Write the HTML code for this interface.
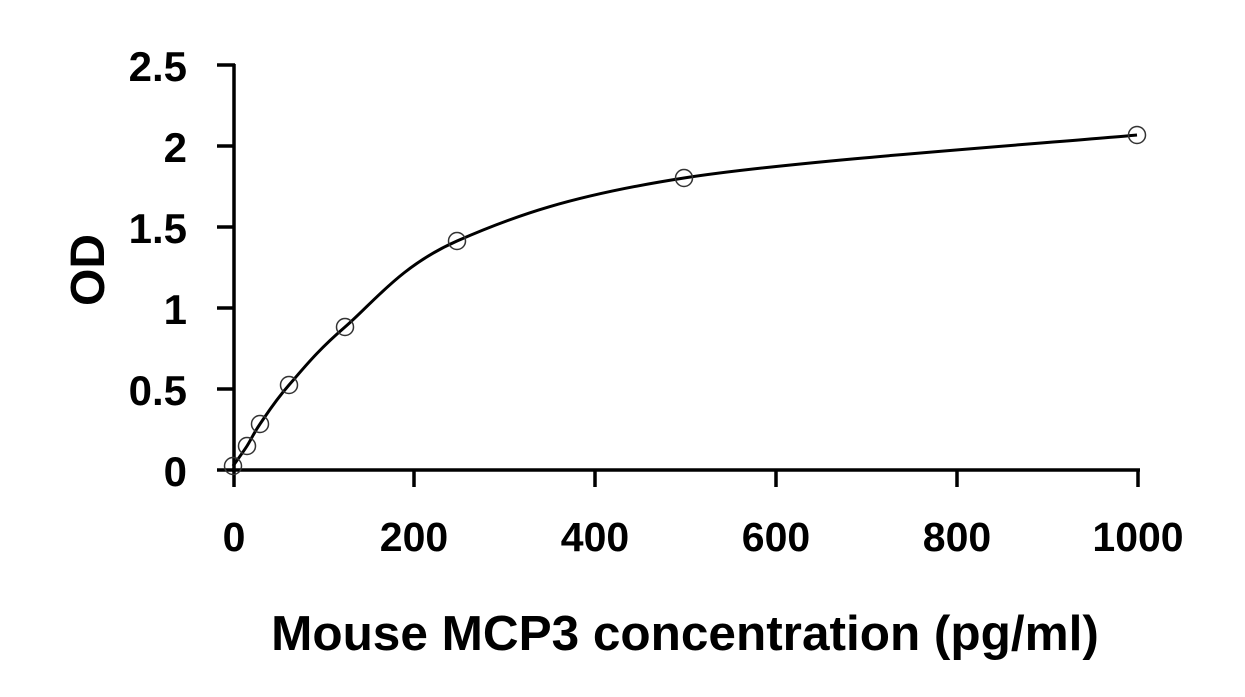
<!DOCTYPE html>
<html><head><meta charset="utf-8"><style>
html,body{margin:0;padding:0;background:#fff;}
svg{display:block;}
text{font-family:"Liberation Sans",Arial,sans-serif;font-weight:bold;fill:#000;}
</style></head><body>
<svg width="1245" height="697" viewBox="0 0 1245 697" xmlns="http://www.w3.org/2000/svg">
<g stroke="#000" stroke-width="3.5" fill="none">
<line x1="234" y1="64" x2="234" y2="471"/>
<line x1="232" y1="470" x2="1140" y2="470"/>
<line x1="217" y1="65" x2="235" y2="65"/>
<line x1="217" y1="146" x2="235" y2="146"/>
<line x1="217" y1="227" x2="235" y2="227"/>
<line x1="217" y1="308" x2="235" y2="308"/>
<line x1="217" y1="389" x2="235" y2="389"/>
<line x1="217" y1="470" x2="235" y2="470"/>
<line x1="234" y1="470" x2="234" y2="487"/>
<line x1="414" y1="470" x2="414" y2="487"/>
<line x1="595" y1="470" x2="595" y2="487"/>
<line x1="776" y1="470" x2="776" y2="487"/>
<line x1="957" y1="470" x2="957" y2="487"/>
<line x1="1138" y1="470" x2="1138" y2="487"/>
<path id="curve" stroke-width="3"/>
</g>
<g fill="none" stroke="#333" stroke-width="1.5" id="pts"></g>
<g font-size="42" text-anchor="end">
<text x="187" y="81">2.5</text>
<text x="187" y="162">2</text>
<text x="187" y="243">1.5</text>
<text x="187" y="324">1</text>
<text x="187" y="405">0.5</text>
<text x="187" y="486">0</text>
</g>
<g font-size="41" text-anchor="middle">
<text x="234" y="551">0</text>
<text x="414" y="551">200</text>
<text x="595" y="551">400</text>
<text x="776" y="551">600</text>
<text x="957" y="551">800</text>
<text x="1138" y="551">1000</text>
</g>
<text x="685" y="650" font-size="49.5" text-anchor="middle">Mouse MCP3 concentration (pg/ml)</text>
<text transform="translate(104,270) rotate(-90)" font-size="48" text-anchor="middle">OD</text>
</svg>
<script>
var P=[[233,466],[247,446],[260,424],[289,385],[345,327],[457,241],[684,178],[1137,135]];
var d="M"+P[0][0]+","+P[0][1];
for(var i=0;i<P.length-1;i++){
 var p0=P[i-1]||P[i],p1=P[i],p2=P[i+1],p3=P[i+2]||P[i+1];
 var t=6;
 d+=" C"+(p1[0]+(p2[0]-p0[0])/t)+","+(p1[1]+(p2[1]-p0[1])/t)+" "+(p2[0]-(p3[0]-p1[0])/t)+","+(p2[1]-(p3[1]-p1[1])/t)+" "+p2[0]+","+p2[1];
}
document.getElementById("curve").setAttribute("d",d);
var g=document.getElementById("pts"),s="";
P.forEach(function(p){s+='<circle cx="'+p[0]+'" cy="'+p[1]+'" r="8.5"/>';});
g.innerHTML=s;
</script>
</body></html>
